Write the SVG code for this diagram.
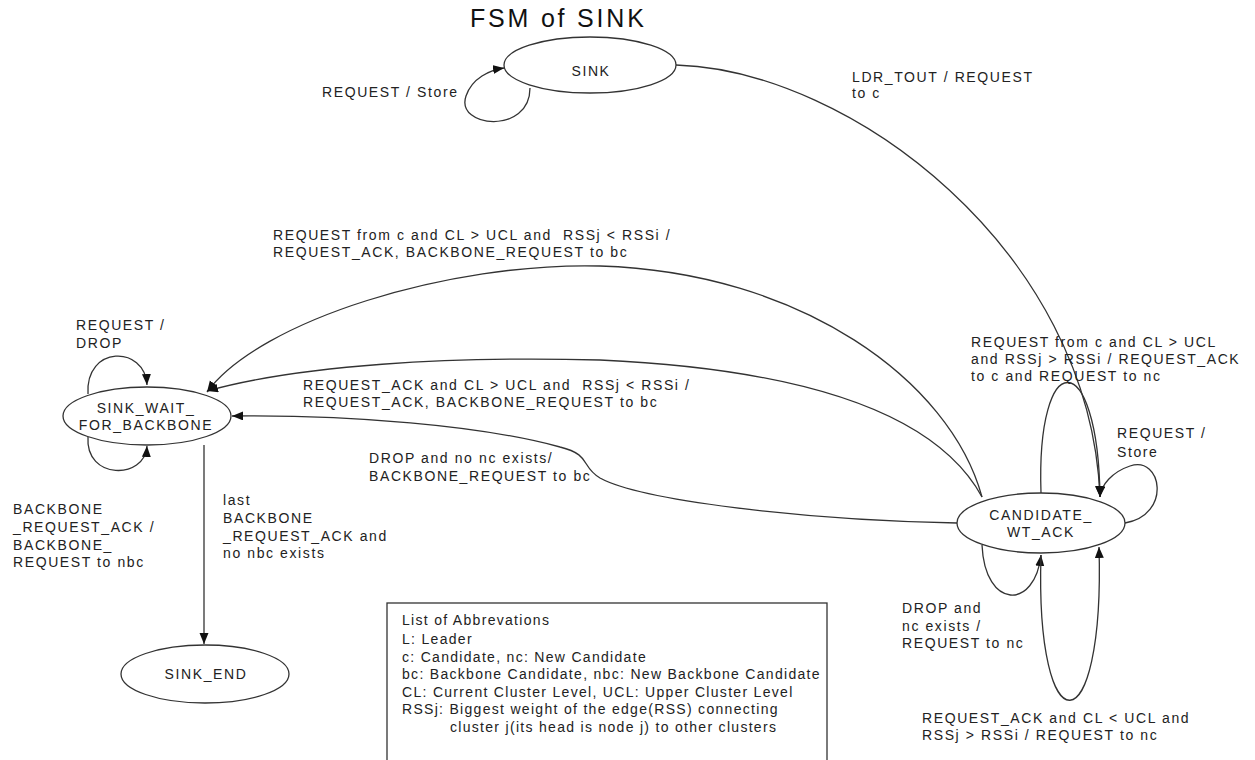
<svg xmlns="http://www.w3.org/2000/svg" width="1255" height="760" viewBox="0 0 1255 760">
<style>
text{font-family:"Liberation Sans",Arial,sans-serif;font-size:14px;letter-spacing:1.6px;fill:#222;white-space:pre}
.title{font-size:25px;letter-spacing:2.8px;fill:#111}
.box{letter-spacing:1.3px}
.mid{text-anchor:middle}
ellipse{fill:#fff;stroke:#333;stroke-width:1.3}
.edge{fill:none;stroke:#333;stroke-width:1.3}
.arr{marker-end:url(#ah)}
</style>
<defs>
<marker id="ah" markerUnits="userSpaceOnUse" markerWidth="12" markerHeight="10" refX="11" refY="4.5" orient="auto">
<path d="M0,0 L11,4.5 L0,9 z" fill="#111"/>
</marker>
</defs>
<rect width="1255" height="760" fill="#fff"/>
<text class="title" x="470" y="27">FSM of SINK</text>

<g id="connectors">
<path class="edge arr" d="M530 88 C530 135,455 128,466 96 C472 78,490 70,504 68"/>
<path class="edge arr" d="M676 65 C850 70,1090 250,1100 497"/>
<path class="edge arr" d="M982 497 C950 380,800 272,600 266 C450 262,260 320,207 392"/>
<path class="edge arr" d="M982 497 C940 420,820 370,600 360 C450 356,300 365,207 391"/>
<path class="edge arr" d="M957 523 C800 520,640 500,600 478 C580 466,592 455,560 447 C480 425,350 415,232 416"/>
<path class="edge arr" d="M1041 493 C1036 345,1098 345,1100 497"/>
<path class="edge arr" d="M1125 523 C1172 515,1162 455,1130 466 C1112 472,1101 485,1100 497"/>
<path class="edge arr" d="M982 545 C985 610,1035 610,1041 555"/>
<path class="edge arr" d="M1041 555 C1035 750,1105 750,1099 547"/>
<path class="edge arr" d="M88 394 C85 345,145 345,147 385"/>
<path class="edge arr" d="M88 437 C85 480,145 480,147 446"/>
<path class="edge arr" d="M204 445 L204 644"/>
</g>

<g id="node-sink">
<ellipse cx="590" cy="65" rx="86" ry="28"/>
<text class="mid" x="591" y="76">SINK</text>
</g>
<g id="node-sink-wait">
<ellipse cx="147" cy="416" rx="84" ry="29"/>
<text class="mid" x="146" y="413">SINK_WAIT_</text>
<text class="mid" x="146" y="430">FOR_BACKBONE</text>
</g>
<g id="node-candidate">
<ellipse cx="1041" cy="523" rx="84" ry="30"/>
<text class="mid" x="1041" y="520">CANDIDATE_</text>
<text class="mid" x="1041" y="537">WT_ACK</text>
</g>
<g id="node-sink-end">
<ellipse cx="205" cy="674" rx="84" ry="29"/>
<text class="mid" x="206" y="679">SINK_END</text>
</g>

<g id="labels">
<text x="322" y="97">REQUEST / Store</text>
<text x="852" y="82">LDR_TOUT / REQUEST</text>
<text x="852" y="98">to c</text>
<text x="273" y="240">REQUEST from c and CL &gt; UCL and  RSSj &lt; RSSi /</text>
<text x="273" y="257">REQUEST_ACK, BACKBONE_REQUEST to bc</text>
<text x="76" y="330">REQUEST /</text>
<text x="76" y="348">DROP</text>
<text x="303" y="390">REQUEST_ACK and CL &gt; UCL and  RSSj &lt; RSSi /</text>
<text x="303" y="407">REQUEST_ACK, BACKBONE_REQUEST to bc</text>
<text x="369" y="463">DROP and no nc exists/</text>
<text x="369" y="481">BACKBONE_REQUEST to bc</text>
<text x="971" y="347">REQUEST from c and CL &gt; UCL</text>
<text x="971" y="364">and RSSj &gt; RSSi / REQUEST_ACK</text>
<text x="971" y="381">to c and REQUEST to nc</text>
<text x="1117" y="438">REQUEST /</text>
<text x="1117" y="457">Store</text>
<text x="13" y="514">BACKBONE</text>
<text x="13" y="532">_REQUEST_ACK /</text>
<text x="13" y="550">BACKBONE_</text>
<text x="13" y="567">REQUEST to nbc</text>
<text x="223" y="505">last</text>
<text x="223" y="523">BACKBONE</text>
<text x="223" y="541">_REQUEST_ACK and</text>
<text x="223" y="558">no nbc exists</text>
<text x="902" y="613">DROP and</text>
<text x="902" y="631">nc exists /</text>
<text x="902" y="648">REQUEST to nc</text>
<text x="922" y="723">REQUEST_ACK and CL &lt; UCL and</text>
<text x="922" y="740">RSSj &gt; RSSi / REQUEST to nc</text>
</g>

<g id="abbreviations">
<rect x="387" y="603" width="440" height="170" fill="none" stroke="#333" stroke-width="1.3"/>
<text class="box" x="402" y="625">List of Abbrevations</text>
<text class="box" x="402" y="644">L: Leader</text>
<text class="box" x="402" y="662">c: Candidate, nc: New Candidate</text>
<text class="box" x="402" y="679">bc: Backbone Candidate, nbc: New Backbone Candidate</text>
<text class="box" x="402" y="697">CL: Current Cluster Level, UCL: Upper Cluster Level</text>
<text class="box" x="402" y="714">RSSj: Biggest weight of the edge(RSS) connecting</text>
<text class="box" x="450" y="732">cluster j(its head is node j) to other clusters</text>
</g>
</svg>
